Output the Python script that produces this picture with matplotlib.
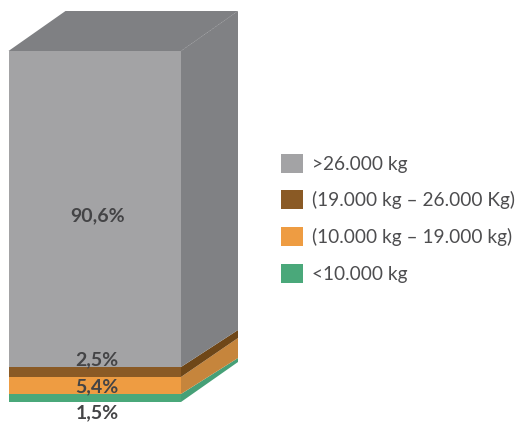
import matplotlib
matplotlib.use("Agg")
from matplotlib import pyplot as plt
from matplotlib.patches import Polygon, Patch

labels = [">26.000 kg", "(19.000 kg – 26.000 Kg)", "(10.000 kg – 19.000 kg)", "<10.000 kg"]
pct_labels = ["1,5%", "5,4%", "2,5%", "90,6%"]

# segment heights as drawn in the picture, bottom to top (not to scale with the %)
front_heights = [8, 17, 10, 316]
back_heights = [4, 20, 8, 319]
front_colors = ["#4aa87a", "#ee9c42", "#8a5a25", "#a3a3a5"]
side_colors = ["#46a077", "#c6853c", "#6f4718", "#808184"]
legend_colors = ["#a3a3a5", "#8a5a25", "#ee9c42", "#4aa87a"]

# where the pct label sits, relative to the box bottom
label_y = [-11, 15, 42, 186]

plt.rcParams['font.family'] = ['Lato', 'DejaVu Sans']
text_color = "#4d4d4f"

fig = plt.figure(figsize=(5.15, 4.22), dpi=100)
ax = fig.add_axes([0, 0, 1, 1])
ax.set_xlim(0, 515)
ax.set_ylim(-20, 402)
ax.axis('off')

left = 8.5
width = 172.5
depth_x = 57
depth_y = 40
right = left + width
back = right + depth_x

front_bottom = 0
back_bottom = depth_y
for i in range(len(front_heights)):
    ax.bar(left, front_heights[i], width=width, bottom=front_bottom, align='edge',
           color=front_colors[i], linewidth=0, zorder=2)
    front_top = front_bottom + front_heights[i]
    back_top = back_bottom + back_heights[i]
    ax.add_patch(Polygon([(right, front_bottom), (back, back_bottom), (back, back_top), (right, front_top)],
                         closed=True, facecolor=side_colors[i], edgecolor='none', zorder=2))
    ax.text(left + width / 2 + 2.5, label_y[i], pct_labels[i], ha='center', va='center',
            fontsize=14, fontweight='bold', color="#444446", zorder=4)
    front_bottom = front_top
    back_bottom = back_top

# top face
ax.add_patch(Polygon([(left, front_bottom), (left + depth_x, back_bottom), (back, back_bottom), (right, front_bottom)],
                     closed=True, facecolor="#7f8083", edgecolor='none', zorder=2))
ax.plot([right, back], [front_bottom, back_bottom], color="#88898c", lw=0.6, ls=(0, (2, 2)), zorder=3)

handles = [Patch(facecolor=c, edgecolor='none') for c in legend_colors]
ax.legend(handles, labels, loc='center left', bbox_to_anchor=(281 / 515, 0.483), frameon=False,
          fontsize=13.7, labelcolor=text_color, handlelength=1.156, handleheight=1.156,
          handletextpad=0.47, labelspacing=0.93, borderpad=0, borderaxespad=0)

fig.savefig("out.png", dpi=100)
